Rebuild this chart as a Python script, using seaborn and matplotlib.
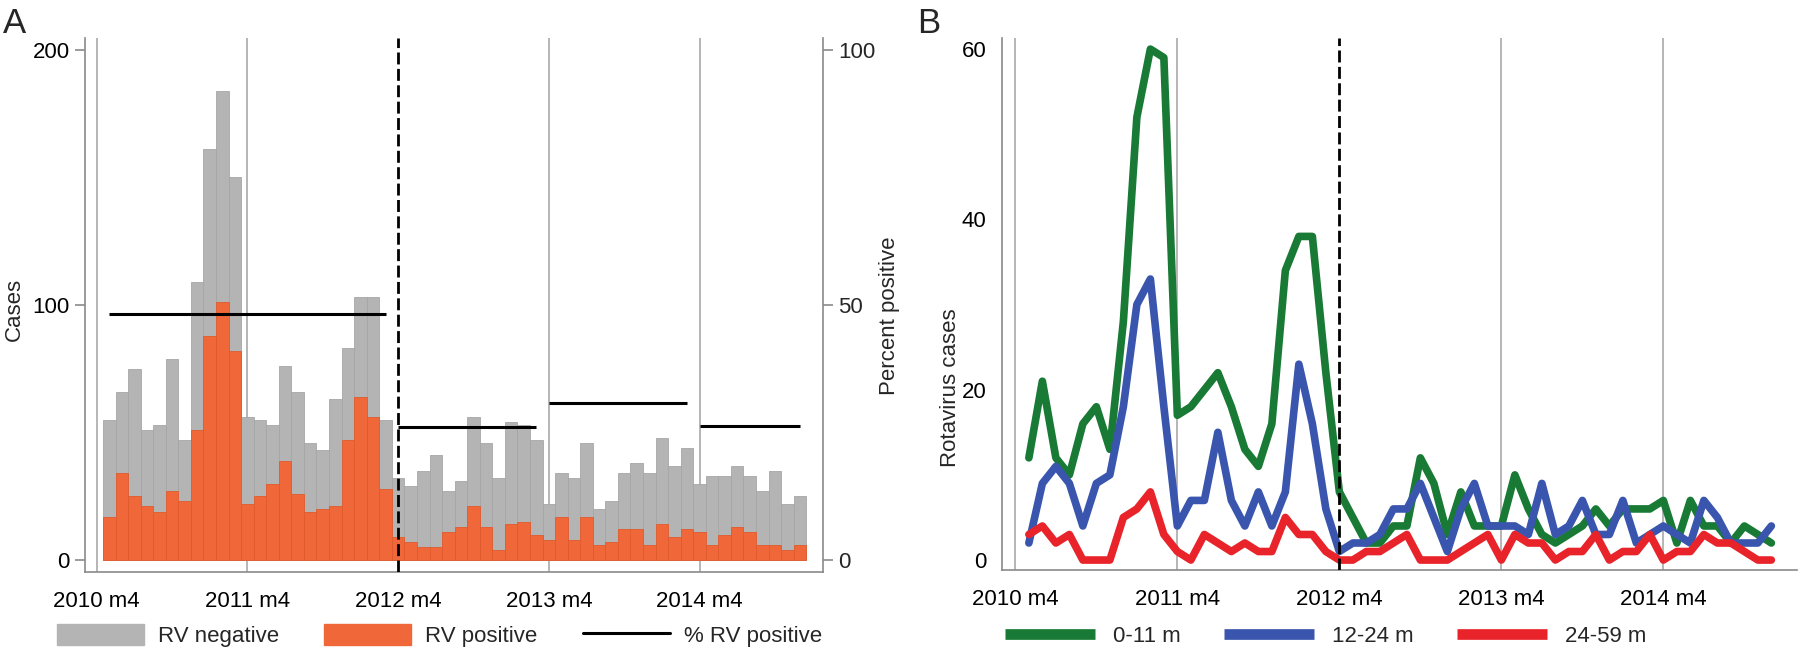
import matplotlib
matplotlib.use("Agg")
import matplotlib.pyplot as plt
from matplotlib.lines import Line2D
from matplotlib.patches import Patch
import pandas as pd
import seaborn as sns

# ---- data ----
months = pd.period_range("2010-05", "2014-12", freq="M")

rv_positive = [17, 34, 25, 21, 19, 27, 23, 51, 88, 101, 82, 22, 25, 30, 39, 26,
               19, 20, 21, 47, 64, 56, 28, 9, 7, 5, 5, 11, 13, 21, 13, 4, 14, 15,
               10, 8, 17, 8, 17, 6, 7, 12, 12, 6, 14, 9, 12, 11, 6, 10, 13, 11,
               6, 6, 4, 6]
rv_negative = [38, 32, 50, 30, 34, 52, 24, 58, 73, 83, 68, 34, 30, 23, 37, 40,
               27, 23, 42, 36, 39, 47, 27, 23, 22, 30, 36, 16, 18, 35, 33, 28,
               40, 38, 37, 14, 17, 24, 29, 14, 16, 22, 26, 28, 34, 28, 32, 19,
               27, 23, 24, 22, 21, 29, 18, 19]

# % RV positive per period (first and last month of each period)
period_start = ["2010-05", "2012-04", "2013-04", "2014-04"]
period_end = ["2012-03", "2013-03", "2014-03", "2014-12"]
pct_positive = [48.3, 26.0, 30.8, 26.3]

cases_0_11 = [12, 21, 12, 10, 16, 18, 13, 28, 52, 60, 59, 17, 18, 20, 22, 18,
              13, 11, 16, 34, 38, 38, 22, 8, 5, 2, 2, 4, 4, 12, 9, 3, 8, 4, 4,
              4, 10, 6, 3, 2, 3, 4, 6, 4, 6, 6, 6, 7, 2, 7, 4, 4, 2, 4, 3, 2]
cases_12_24 = [2, 9, 11, 9, 4, 9, 10, 18, 30, 33, 18, 4, 7, 7, 15, 7, 4, 8, 4,
               8, 23, 16, 6, 1, 2, 2, 3, 6, 6, 9, 5, 1, 6, 9, 4, 4, 4, 3, 9, 3,
               4, 7, 3, 3, 7, 2, 3, 4, 3, 2, 7, 5, 2, 2, 2, 4]
cases_24_59 = [3, 4, 2, 3, 0, 0, 0, 5, 6, 8, 3, 1, 0, 3, 2, 1, 2, 1, 1, 5, 3, 3,
               1, 0, 0, 1, 1, 2, 3, 0, 0, 0, 1, 2, 3, 0, 3, 2, 2, 0, 1, 1, 3, 0,
               1, 1, 3, 0, 1, 1, 3, 2, 2, 1, 0, 0]

year_ticks = ["2010-04", "2011-04", "2012-04", "2013-04", "2014-04"]
year_labels = ["2010 m4", "2011 m4", "2012 m4", "2013 m4", "2014 m4"]
intervention = "2012-04"
age_groups = ["0-11 m", "12-24 m", "24-59 m"]

GRAY = "#b4b4b4"
ORANGE = "#f0683a"
AGE_COLORS = ["#187a34", "#3a55ad", "#e8232a"]
SPINE = "#8a8a8a"
GRID = "#b0b0b0"

origin = pd.Period("2010-04", "M")


def m_index(p):
    return (pd.Period(p, "M") - origin).n


month_idx = [m_index(m) for m in months]
year_idx = [m_index(p) for p in year_ticks]

sns.set_theme(style="white")
plt.rcParams["font.family"] = ["Liberation Sans", "DejaVu Sans"]

fig = plt.figure(figsize=(18, 6.53), dpi=100)
W, H = 1800, 653


def add_ax(left, right, top, bottom):
    return fig.add_axes([left / W, 1 - bottom / H, (right - left) / W, (bottom - top) / H])


def style_axis(ax, xlim, ylim):
    ax.set_xlim(*xlim)
    ax.set_ylim(*ylim)
    ax.set_xticks(list(range(0, 58, 3)))
    ax.set_xticklabels([year_labels[year_idx.index(t)] if t in year_idx else "" for t in range(0, 58, 3)])
    ax.tick_params(axis="both", direction="out", length=7, width=1.2, color=SPINE,
                   labelsize=16, labelcolor="black")
    ax.tick_params(axis="x", pad=7)
    ax.tick_params(axis="y", pad=4)
    for s in ["top", "right"]:
        ax.spines[s].set_visible(False)
    for s in ["left", "bottom"]:
        ax.spines[s].set_color(SPINE)
        ax.spines[s].set_linewidth(1.2)
    ax.set_xlabel("")
    ax.set_ylabel("")
    for x in year_idx:
        if x == m_index(intervention):
            ax.axvline(x, color="black", lw=2.0, ls=(0, (4.3, 1.6)), zorder=5)
        else:
            ax.axvline(x, color=GRID, lw=1.3, zorder=0.5)


# ---------------- Panel A ----------------
axa = add_ax(85, 823, 38, 572)
df_a = pd.DataFrame({"month": month_idx, "pos": rv_positive, "neg": rv_negative})
df_a["total"] = df_a["pos"] + df_a["neg"]

sns.barplot(data=df_a, x="month", y="total", native_scale=True, width=1,
            color=GRAY, saturation=1, edgecolor="#a6a6a6", linewidth=0.6,
            errorbar=None, ax=axa)
sns.barplot(data=df_a, x="month", y="pos", native_scale=True, width=1,
            color=ORANGE, saturation=1, edgecolor="#e05a2c", linewidth=0.6,
            errorbar=None, ax=axa)
style_axis(axa, (-0.93, 57.83), (-4.7, 204.7))
axa.set_yticks([0, 100, 200])

axa2 = axa.twinx()
axa2.set_ylim(-4.7 / 2, 204.7 / 2)
axa2.set_yticks([0, 50, 100])
axa2.tick_params(axis="y", direction="out", length=7, width=1.2, color=SPINE,
                 labelsize=16, pad=4)
for s in ["top", "left", "bottom"]:
    axa2.spines[s].set_visible(False)
axa2.spines["right"].set_color(SPINE)
axa2.spines["right"].set_linewidth(1.2)
axa2.hlines(pct_positive, [m_index(p) for p in period_start],
            [m_index(p) for p in period_end], color="black", lw=2.2)

fig.text(14 / W, 1 - 309 / H, "Cases", rotation=90, ha="center", va="center", fontsize=16)
fig.text(889 / W, 1 - 316 / H, "Percent positive", rotation=90, ha="center", va="center", fontsize=16)

fig.legend(handles=[Patch(facecolor=GRAY, edgecolor=GRAY),
                    Patch(facecolor=ORANGE, edgecolor=ORANGE),
                    Line2D([], [], color="black", lw=2.2)],
           labels=["RV negative", "RV positive", "% RV positive"],
           loc="center left", bbox_to_anchor=(57 / W, 1 - 635.5 / H), ncol=3,
           frameon=False, fontsize=16, handlelength=3.92, handleheight=1.04,
           handletextpad=0.63, columnspacing=2.03, borderpad=0, borderaxespad=0)

# ---------------- Panel B ----------------
axb = add_ax(1002, 1797, 38, 570)
df_b = pd.DataFrame({
    "month": month_idx * 3,
    "cases": cases_0_11 + cases_12_24 + cases_24_59,
    "age": [a for a in age_groups for _ in month_idx],
})
sns.lineplot(data=df_b, x="month", y="cases", hue="age", hue_order=age_groups,
             palette=AGE_COLORS, linewidth=5.5, legend=False, ax=axb, zorder=3)
style_axis(axb, (-0.99, 57.9), (-1.17, 61.3))
axb.set_yticks([0, 20, 40, 60])

fig.text(950 / W, 1 - 388 / H, "Rotavirus cases", rotation=90, ha="center", va="center", fontsize=16)

fig.legend(handles=[Line2D([], [], color=c, lw=7.7, solid_capstyle="butt") for c in AGE_COLORS],
           labels=age_groups, loc="center left", bbox_to_anchor=(1005 / W, 1 - 636.5 / H),
           ncol=3, frameon=False, fontsize=16, handlelength=4.05,
           handletextpad=0.81, columnspacing=1.94, borderpad=0, borderaxespad=0)

fig.text(3 / W, 1 - 33 / H, "A", fontsize=25, va="baseline", ha="left")
fig.text(917 / W, 1 - 33 / H, "B", fontsize=25, va="baseline", ha="left")

fig.savefig("out.png", dpi=100)
